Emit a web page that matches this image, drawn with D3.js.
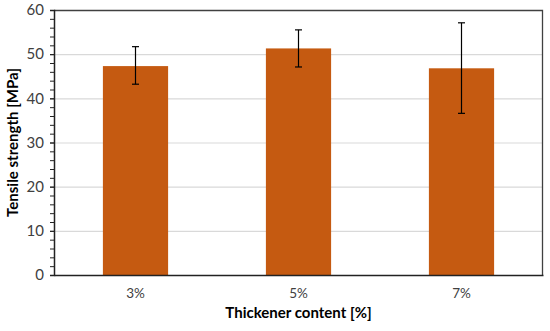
<!DOCTYPE html>
<html>
<head>
<meta charset="utf-8">
<script src="https://cdn.jsdelivr.net/npm/d3@7"></script>
<style>
  body { margin: 0; background: #fff; }
  svg { display: block; font-family: Lato, "Open Sans", sans-serif; }
</style>
</head>
<body>
<svg id="chart"></svg>
<script>
const categories = ['3%', '5%', '7%'];
const means = [47.3, 51.3, 46.8];
const errLow = [43.2, 47.1, 36.6];
const errHigh = [51.7, 55.5, 57.1];
const yTicks = [0, 10, 20, 30, 40, 50, 60];

const width = 550;
const height = 331;
const margin = { top: 10, right: 7, bottom: 56, left: 54 };

const svg = d3.select('#chart')
  .attr('width', width)
  .attr('height', height);

const x = d3.scaleBand()
  .domain(categories)
  .range([margin.left, width - margin.right])
  .paddingInner(0.6)
  .paddingOuter(0.3);

const y = d3.scaleLinear()
  .domain([0, 60])
  .range([height - margin.bottom, margin.top]);

// gridlines
svg.append('g')
  .selectAll('line')
  .data(yTicks.slice(1))
  .join('line')
  .attr('x1', margin.left)
  .attr('x2', width - margin.right)
  .attr('y1', d => y(d) + 0.5)
  .attr('y2', d => y(d) + 0.5)
  .attr('stroke', '#d9d9d9')
  .attr('stroke-width', 1.2);

// bars
svg.append('g')
  .selectAll('rect')
  .data(categories)
  .join('rect')
  .attr('x', d => x(d))
  .attr('width', x.bandwidth())
  .attr('y', (d, i) => y(means[i]))
  .attr('height', (d, i) => y(0) - y(means[i]))
  .attr('fill', '#c55a11');

// error bars
const eb = svg.append('g')
  .attr('stroke', '#000')
  .attr('stroke-width', 1.2)
  .selectAll('g')
  .data(categories)
  .join('g')
  .attr('transform', d => `translate(${x(d) + x.bandwidth() / 2},0)`);

eb.append('line')
  .attr('y1', (d, i) => y(errLow[i]))
  .attr('y2', (d, i) => y(errHigh[i]));
eb.append('line')
  .attr('x1', -3.5).attr('x2', 3.5)
  .attr('y1', (d, i) => y(errLow[i]))
  .attr('y2', (d, i) => y(errLow[i]));
eb.append('line')
  .attr('x1', -3.5).attr('x2', 3.5)
  .attr('y1', (d, i) => y(errHigh[i]))
  .attr('y2', (d, i) => y(errHigh[i]));

// frame (top and right)
svg.append('path')
  .attr('d', `M${margin.left},${margin.top + 0.5}H${width - margin.right - 0.5}V${height - margin.bottom}`)
  .attr('fill', 'none')
  .attr('stroke', '#404040')
  .attr('stroke-width', 1.3);

// y axis minor ticks
svg.append('g')
  .attr('transform', `translate(${margin.left},0)`)
  .call(d3.axisLeft(y).tickValues(d3.range(0, 61, 2)).tickSize(4).tickFormat(''))
  .call(g => g.select('.domain').remove())
  .call(g => g.selectAll('.tick line').attr('stroke', '#222'));

// y axis major
svg.append('g')
  .attr('transform', `translate(${margin.left},0)`)
  .call(d3.axisLeft(y).tickValues(yTicks).tickSize(4).tickPadding(6))
  .call(g => g.select('.domain').attr('stroke', '#222').attr('stroke-width', 1.5))
  .call(g => g.selectAll('.tick line').attr('stroke', '#222'))
  .call(g => g.selectAll('.tick text')
    .attr('font-size', 15)
    .attr('fill', '#404040')
    .attr('font-family', 'Lato, sans-serif'));

// x axis
svg.append('g')
  .attr('transform', `translate(0,${height - margin.bottom})`)
  .call(d3.axisBottom(x).tickSize(0).tickPadding(13))
  .call(g => g.select('.domain').attr('stroke', '#222').attr('stroke-width', 1.5))
  .call(g => g.selectAll('.tick text')
    .attr('font-size', 13.5)
    .attr('fill', '#404040')
    .attr('font-family', 'Lato, sans-serif'));

// axis titles
svg.append('text')
  .attr('x', x.range()[0] + (x.range()[1] - x.range()[0]) / 2)
  .attr('y', 318)
  .attr('text-anchor', 'middle')
  .attr('font-size', 15)
  .attr('font-weight', 'bold')
  .attr('fill', '#000')
  .text('Thickener content [%]');

svg.append('text')
  .attr('transform', `translate(18,${margin.top + (height - margin.bottom - margin.top) / 2}) rotate(-90)`)
  .attr('text-anchor', 'middle')
  .attr('font-size', 15)
  .attr('font-weight', 'bold')
  .attr('fill', '#000')
  .text('Tensile strength [MPa]');
</script>
</body>
</html>
